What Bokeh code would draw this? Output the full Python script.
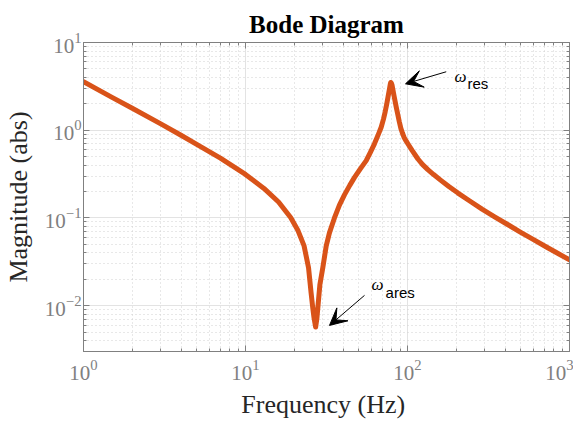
from bokeh.plotting import figure
from bokeh.models import LogAxis, FixedTicker, Arrow, VeeHead, Label, ColumnDataSource
from bokeh.embed import file_html
from bokeh.resources import INLINE

# ---- data ----
freq_hz = [1, 1.5, 2, 3, 4, 5, 7, 10, 13, 16, 19, 21, 23, 24.5, 25.4, 26.0, 26.5,
           27.1, 27.6, 28.1, 28.8, 30, 31.5, 33, 35.4, 38, 40.8, 44, 47.1, 51, 55.6,
           59, 62.5, 66, 68.8, 71, 72.8, 74.5, 76.3, 77.5, 78.3, 78.8, 79.5, 80.2,
           81, 82, 83, 84, 85, 86, 87.5, 89, 91, 93, 95.5, 98, 100.5, 107, 116, 124,
           133.5, 145, 160, 180, 205, 241, 290, 345, 420, 500, 600, 720, 850, 1000]
magnitude_abs = [3.57, 2.37, 1.78, 1.18, 0.875, 0.69, 0.48, 0.313, 0.217, 0.152, 0.101,
                 0.073, 0.048, 0.027, 0.014, 0.0095, 0.0072,
                 0.0057, 0.0072, 0.0105, 0.0175, 0.027, 0.048, 0.068, 0.1, 0.14, 0.183,
                 0.235, 0.29, 0.36, 0.45,
                 0.56, 0.70, 0.89, 1.08, 1.33, 1.62, 2.0, 2.55, 3.0, 3.35, 3.5, 3.45, 3.3,
                 3.0, 2.65, 2.35, 2.1, 1.88, 1.69, 1.45, 1.25, 1.05, 0.93, 0.82, 0.755,
                 0.70, 0.585, 0.47, 0.405,
                 0.355, 0.312, 0.27, 0.228, 0.192, 0.157, 0.125, 0.103, 0.083, 0.0685,
                 0.0565, 0.0466, 0.0393, 0.0332]
x_ticks = [1, 10, 100, 1000]
y_ticks = [0.01, 0.1, 1, 10]
x_range = (1, 1000)
y_range = (0.003, 10)

x_minor = [m * 10 ** d for d in range(0, 3) for m in range(2, 10)]
y_minor = [m * 10.0 ** d for d in range(-3, 1) for m in range(2, 10) if m * 10.0 ** d >= 0.003]

AX = "#808080"
SERIF = "Liberation Serif"

p = figure(x_axis_type="log", y_axis_type="log", x_range=x_range, y_range=y_range,
           frame_width=486, frame_height=309, output_backend="svg",
           toolbar_location=None, title="Bode Diagram",
           min_border_left=82, min_border_right=4, min_border_top=42, min_border_bottom=62)
p.background_fill_color = "white"
p.border_fill_color = "white"
p.outline_line_color = AX

p.title.text_font = SERIF
p.title.text_font_style = "bold"
p.title.text_font_size = "25px"
p.title.align = "center"
p.title.text_color = "black"

p.xaxis.ticker = FixedTicker(ticks=x_ticks, minor_ticks=x_minor)
p.yaxis.ticker = FixedTicker(ticks=y_ticks, minor_ticks=y_minor)

def style_axis(ax, labels=True):
    ax.axis_line_color = AX
    ax.major_tick_line_color = AX
    ax.minor_tick_line_color = AX
    ax.major_tick_in = 6
    ax.major_tick_out = 0
    ax.minor_tick_in = 3
    ax.minor_tick_out = 0
    if labels:
        ax.major_label_text_font = SERIF
        ax.major_label_text_font_size = "21px"
        ax.major_label_text_color = AX
        ax.axis_label_text_font = SERIF
        ax.axis_label_text_font_size = "26px"
        ax.axis_label_text_font_style = "normal"
        ax.axis_label_text_color = "#262626"
    else:
        ax.major_label_text_font_size = "1px"
        ax.major_label_text_color = None
        ax.major_label_standoff = 0

for ax in p.xaxis + p.yaxis:
    style_axis(ax)
p.xaxis.major_label_standoff = 8
p.xaxis.axis_label_standoff = 7
p.yaxis.major_label_standoff = 2
p.yaxis.axis_label_standoff = 9
p.xaxis.axis_label = "Frequency  (Hz)"
p.yaxis.axis_label = "Magnitude (abs)"

top_ax = LogAxis(ticker=FixedTicker(ticks=x_ticks, minor_ticks=x_minor))
right_ax = LogAxis(ticker=FixedTicker(ticks=y_ticks, minor_ticks=y_minor))
style_axis(top_ax, labels=False)
style_axis(right_ax, labels=False)
p.add_layout(top_ax, "above")
p.add_layout(right_ax, "right")

for g in (p.xgrid, p.ygrid):
    g.grid_line_color = "#e3e3e3"
    g.grid_line_width = 1
    g.minor_grid_line_color = "#d0d0d0"
    g.minor_grid_line_dash = "1 3"

src = ColumnDataSource(dict(f=freq_hz, m=magnitude_abs))
p.line("f", "m", source=src, line_color="#D95319", line_width=5,
       line_join="round", line_cap="round")

# annotations
p.add_layout(Arrow(end=VeeHead(size=17, fill_color="black", line_color="black"),
                   x_start=173.4, y_start=4.64, x_end=97.2, y_end=3.38,
                   line_color="black", line_width=1))
p.add_layout(Arrow(end=VeeHead(size=17, fill_color="black", line_color="black"),
                   x_start=54.3, y_start=0.0131, x_end=33.0, y_end=0.00595,
                   line_color="black", line_width=1))

p.add_layout(Label(x=195, y=4.07, text="\u03c9", text_font="Liberation Serif",
                   text_font_style="italic", text_font_size="17px", text_color="black",
                   text_baseline="alphabetic"))
p.add_layout(Label(x=234.6, y=3.38, text="res", text_font="Liberation Sans",
                   text_font_size="15px", text_color="black", text_baseline="alphabetic"))
p.add_layout(Label(x=59.9, y=0.0175, text="\u03c9", text_font="Liberation Serif",
                   text_font_style="italic", text_font_size="17px", text_color="black",
                   text_baseline="alphabetic"))
p.add_layout(Label(x=73.2, y=0.0142, text="ares", text_font="Liberation Sans",
                   text_font_size="15px", text_color="black", text_baseline="alphabetic"))

open("out.html", "w").write(file_html(p, INLINE))
